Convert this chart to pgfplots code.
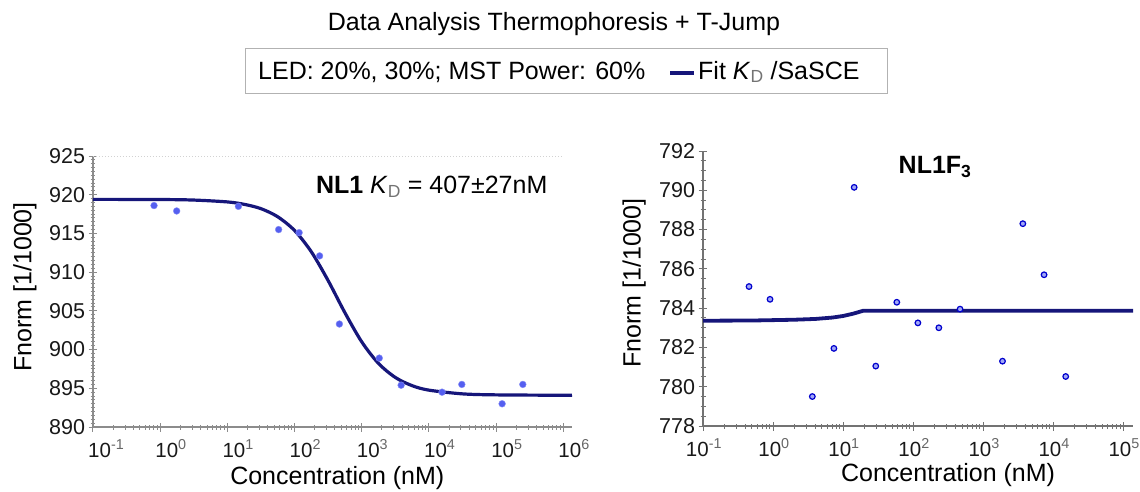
\documentclass[border=0pt]{standalone}
\usepackage{fontspec}
\setmainfont{Liberation Sans}
\usepackage{pgfplots}
\pgfplotsset{compat=1.18}
\definecolor{fitblue}{RGB}{22,22,122}
\definecolor{ptblue}{RGB}{85,95,240}
\definecolor{axgray}{RGB}{140,140,140}

\pgfplotstableread{
x y
0.1 919.40
1 919.38
3.162 919.31
10 919.07
17.78 918.76
31.62 918.20
56.23 917.15
100 915.38
177.8 912.63
316.2 908.91
562.3 904.76
1000 901.00
1778 898.21
3162 896.40
5623 895.34
10000 894.76
31623 894.28
100000 894.15
1000000 894.10
1349000 894.10
}\fitA

\pgfplotstableread{
x y
0.81 918.6
1.76 917.9
14.6 918.5
58 915.5
117 915.1
236 912.1
465 903.3
1825 898.9
3860 895.4
15700 894.5
30900 895.5
123000 893.0
250000 895.5
}\ptsA

\pgfplotstableread{
x y
0.1 783.36
0.5 783.37
1 783.39
2 783.41
4 783.45
7 783.52
10 783.60
14 783.72
19.5 783.87
30 783.87
138000 783.87
}\fitB

\pgfplotstableread{
x y
0.454 785.1
0.906 784.45
3.64 779.5
7.4 781.95
14.4 790.15
29.3 781.05
58.5 784.3
117 783.25
233 783.0
468 783.95
1890 781.3
3690 788.3
7410 785.7
15100 780.52
}\ptsB

\newcommand{\sps}[1]{10\textsuperscript{\color{black!60}#1}}

\begin{document}
\begin{tikzpicture}[x=1pt,y=1pt]
\useasboundingbox (0,0) rectangle (1140,-492);
\node[font=\fontsize{25}{28}\selectfont] at (554,-24) {Data Analysis Thermophoresis + T-Jump};
\draw[gray!60, line width=1pt] (245,-49) rectangle (887,-94);
\node[font=\fontsize{25}{28}\selectfont, anchor=west, inner sep=0pt] at (258,-72) {LED: 20\%, 30\%; MST Power: 60\%};
\draw[fitblue, line width=4pt] (670,-73) -- (694,-73);
\node[font=\fontsize{25}{28}\selectfont, anchor=west, inner sep=0pt] at (698,-72) {Fit \textit{K}\textsubscript{\color{black!55}D} /SaSCE};

\begin{axis}[
  scale only axis,
  xmode=log,
  axis lines*=left,
  axis line style={axgray, line width=1.3pt},
  tick style={axgray, line width=1pt},
  major tick length=9pt, minor tick length=5pt,
  tick align=center,
  /pgf/number format/assume math mode=true,
  ticklabel style={font=\fontsize{21.5}{24}\selectfont, text=black!90},
  label style={font=\fontsize{25}{28}\selectfont},
  xticklabel style={font=\fontsize{20.5}{24}\selectfont, anchor=north west, inner sep=0pt, xshift=-5pt, yshift=-8pt},
  clip=false,
  at={(93pt,-427pt)}, anchor=south west,
  width=479pt, height=271pt,
  xmin=0.1, xmax=1349000, ymin=890, ymax=925,
  xtick={0.1,1,10,100,1000,10000,100000,1000000},
  xticklabels={\sps{-1},\sps{0},\sps{1},\sps{2},\sps{3},\sps{4},\sps{5},\sps{6}},
  minor xtick={0.2,0.3,0.4,0.5,0.6,0.7,0.8,0.9,2,3,4,5,6,7,8,9,20,30,40,50,60,70,80,90,200,300,400,500,600,700,800,900,2000,3000,4000,5000,6000,7000,8000,9000,20000,30000,40000,50000,60000,70000,80000,90000,200000,300000,400000,500000,600000,700000,800000,900000},
  ytick={890,895,...,925},
  minor y tick num=9,
  xlabel={Concentration (nM)},
  ylabel={Fnorm [1/1000]},
  xlabel style={at={(axis description cs:0.51,-0.19)}, anchor=center},
  ylabel style={at={(axis description cs:-0.142,0.517)}, anchor=center},
]
\draw[gray!35, dotted, line width=1pt] (axis cs:0.1,925) -- (axis cs:1000000,925);
\addplot[only marks, mark=*, mark size=3.4pt, mark options={fill=ptblue, draw=ptblue!70!white}] table {\ptsA};
\addplot[fitblue, line width=3.2pt, smooth] table {\fitA};
\node[font=\fontsize{25}{28}\selectfont] at (axis cs:11000,921.0) {\textbf{NL1} \textit{K}\textsubscript{\color{black!55}D} = 407±27nM};
\end{axis}

\begin{axis}[
  scale only axis,
  xmode=log,
  axis lines*=left,
  axis line style={black!55, line width=1.3pt},
  tick style={black!55, line width=1pt},
  major tick length=9pt, minor tick length=5pt,
  tick align=center,
  /pgf/number format/assume math mode=true,
  ticklabel style={font=\fontsize{21.5}{24}\selectfont, text=black!90},
  label style={font=\fontsize{25}{28}\selectfont},
  xticklabel style={font=\fontsize{20.5}{24}\selectfont, anchor=north, inner sep=0pt, xshift=1pt, yshift=-8pt},
  clip=false,
  at={(703pt,-426pt)}, anchor=south west,
  width=430pt, height=275pt,
  xmin=0.1, xmax=138000, ymin=778, ymax=792,
  xtick={0.1,1,10,100,1000,10000,100000},
  xticklabels={\sps{-1},\sps{0},\sps{1},\sps{2},\sps{3},\sps{4},\sps{5}},
  minor xtick={0.2,0.3,0.4,0.5,0.6,0.7,0.8,0.9,2,3,4,5,6,7,8,9,20,30,40,50,60,70,80,90,200,300,400,500,600,700,800,900,2000,3000,4000,5000,6000,7000,8000,9000,20000,30000,40000,50000,60000,70000,80000,90000},
  ytick={778,780,...,792},
  minor y tick num=3,
  xlabel={Concentration (nM)},
  ylabel={Fnorm [1/1000]},
  xlabel style={at={(axis description cs:0.57,-0.18)}, anchor=center},
  ylabel style={at={(axis description cs:-0.160,0.52)}, anchor=center},
]
\addplot[fitblue, line width=3.8pt] table {\fitB};
\addplot[only marks, mark=*, mark size=2.8pt, mark options={fill=ptblue!55, draw=blue!80!black, line width=1.2pt}] table {\ptsB};
\node[font=\fontsize{25}{28}\selectfont] at (axis cs:206,791.2) {\textbf{NL1F\textsubscript{3}}};
\end{axis}
\end{tikzpicture}
\end{document}
